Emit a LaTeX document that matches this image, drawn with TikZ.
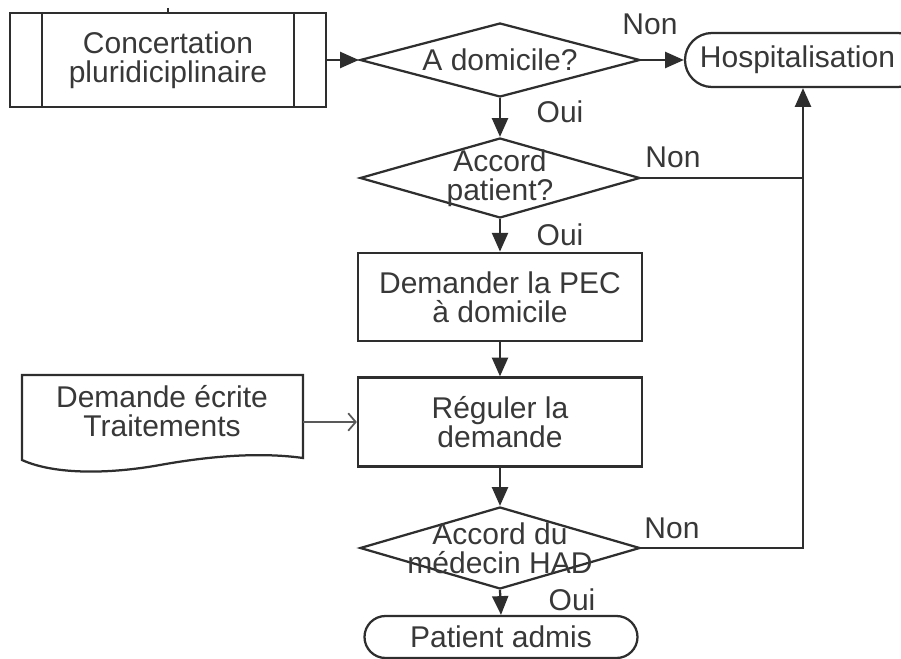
\documentclass[tikz,border=0pt]{standalone}
\usepackage{fontspec}
\setmainfont{Liberation Sans}
\usetikzlibrary{shapes.geometric,shapes.misc,arrows.meta}

\tikzset{
  every node/.style={font=\fontsize{12}{11.5}\selectfont, text=black!78},
  process/.style={rectangle, draw=black!82, line width=0.9pt, minimum width=113.6pt, minimum height=35.4pt, align=center, inner sep=2pt},
  predef/.style={process, minimum width=126.4pt, minimum height=37.6pt},
  decision/.style={diamond, draw=black!82, line width=0.9pt, minimum width=112pt, minimum height=31pt, inner sep=0pt},
  terminal/.style={rounded rectangle, draw=black!82, line width=0.9pt, minimum height=21.6pt, inner sep=2pt},
  flow/.style={draw=black!82, line width=0.9pt, -{Triangle[length=7.5pt,width=6.4pt]}},
  link/.style={draw=black!82, line width=0.9pt},
  feed/.style={draw=black!65, line width=0.7pt, -{Straight Barb[length=3pt,width=7pt]}},
}

\begin{document}
\begin{tikzpicture}[x=0.4pt,y=-0.4pt]
  \useasboundingbox (0,0) rectangle (901,659);

  % main column
  \node[predef] (conc) at (168,60) {Concertation\\pluridiciplinaire};
  \draw[link] ([xshift=13.2pt]conc.north west) -- ([xshift=13.2pt]conc.south west);
  \draw[link] ([xshift=-13.2pt]conc.north east) -- ([xshift=-13.2pt]conc.south east);
  \node[decision, minimum height=29.6pt] (dom) at (500,60) {};
  \node (domtxt) at (dom) {A domicile?};
  \node[terminal, minimum width=100pt] (hosp) at (805,60) {Hospitalisation\hspace*{6pt}};
  \node[decision, minimum height=32pt] (accp) at (500,178) {};
  \node[align=center] (accptxt) at (accp) {Accord\\patient?};
  \node[process] (dem) at (500,297) {Demander la PEC\\à domicile};
  \node[process, minimum height=35.6pt] (reg) at (500,422) {Réguler la\\demande};
  \node[decision, minimum height=32.8pt] (accm) at (500,548) {};
  \node[align=center] (accmtxt) at (accm) {Accord du\\médecin HAD};
  \node[terminal, minimum width=113.2pt, minimum height=16.8pt, inner ysep=0.5pt] (adm) at (501,637) {Patient admis};

  % document
  \node[align=center, minimum width=112.4pt] (doc) at (162,411) {Demande écrite\\Traitements};
  \draw[link] (22,375) -- (303,375) -- (303,458)
    .. controls (260,452) and (210,456) .. (160,465)
    .. controls (110,474) and (55,475) .. (22,460) -- cycle;

  \coordinate (stub) at (168,8);
  \coordinate (jp) at (803,178);
  \coordinate (jm) at (803,548);

  \draw[link] (stub) -- (conc.north);
  \draw[flow] (conc.east) -- (dom.west);
  \draw[flow] (dom.east) -- (hosp.west);
  \draw[flow] (dom.south) -- (accp.north);
  \draw[flow] (accp.south) -- (dem.north);
  \draw[flow] (dem.south) -- (reg.north);
  \draw[flow] (reg.south) -- (accm.north);
  \draw[flow] (accm.south) -- (adm.north);
  \draw[link] (accp.east) -- (jp);
  \draw[link] (accm.east) -- (jm) -- (jp);
  \draw[flow] (jp) -- (jp |- hosp.south);
  \draw[feed] (doc.east |- reg.west) -- (reg.west);

  % labels
  \node (non1) at (650,24) {Non};
  \node (oui1) at (560,112) {Oui};
  \node (non2) at (673,157) {Non};
  \node (oui2) at (560,235) {Oui};
  \node (non3) at (672,528) {Non};
  \node (oui3) at (572,600) {Oui};
\end{tikzpicture}
\end{document}
